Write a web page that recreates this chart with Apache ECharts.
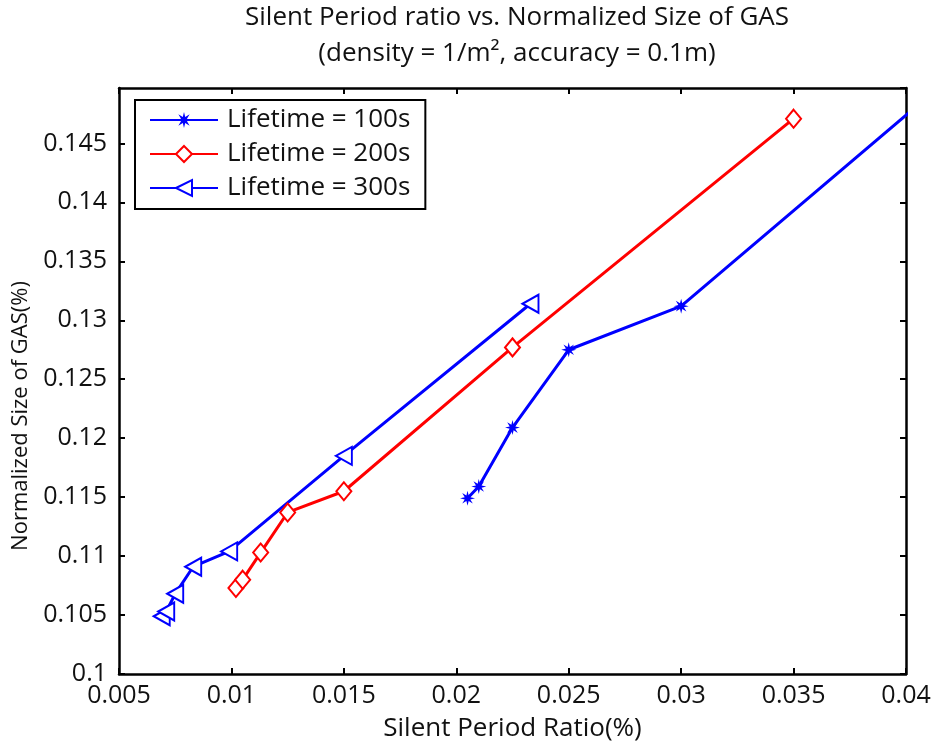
<!DOCTYPE html>
<html>
<head>
<meta charset="utf-8">
<script src="https://cdn.jsdelivr.net/npm/echarts@6/dist/echarts.min.js"></script>
<style>
  html, body { margin: 0; padding: 0; background: #fff; }
  #chart { width: 934px; height: 747px; }
</style>
</head>
<body>
<div id="chart"></div>
<script>
// Silent period ratio (%) and normalized GAS size (%) per node lifetime
const lifetimeNames = ['Lifetime = 100s', 'Lifetime = 200s', 'Lifetime = 300s'];

const ratio100 = [0.0205, 0.0210, 0.0225, 0.0250, 0.0300, 0.0450];
const size100  = [0.1149, 0.1159, 0.1209, 0.1275, 0.1312, 0.1555];

const ratio200 = [0.0102, 0.0105, 0.0113, 0.0125, 0.0150, 0.0225, 0.0350];
const size200  = [0.1073, 0.1080, 0.1103, 0.1137, 0.1155, 0.1277, 0.1471];

const ratio300 = [0.0069, 0.0071, 0.0075, 0.0083, 0.0099, 0.0150, 0.0233];
const size300  = [0.1049, 0.1053, 0.1068, 0.1091, 0.1104, 0.1185, 0.1314];

const xTickLabels = ['0.005', '0.01', '0.015', '0.02', '0.025', '0.03', '0.035', '0.04'];
const yTickLabels = ['0.1', '0.105', '0.11', '0.115', '0.12', '0.125', '0.13', '0.135', '0.14', '0.145'];

const X_MIN = 0.005, X_MAX = 0.04, X_STEP = 0.005;
const Y_MIN = 0.1, Y_MAX = 0.1497, Y_STEP = 0.005;

const FONT = 'Open Sans';
const INK = '#111';
const BLUE = '#0000ff';
const RED = '#ff0000';

// 8-point asterisk marker
const ASTERISK = 'path://M20,10L13.7,11.53L17.07,17.07L11.53,13.7L10,20L8.47,13.7L2.93,17.07L6.3,11.53L0,10L6.3,8.47L2.93,2.93L8.47,6.3L10,0L11.53,6.3L17.07,2.93L13.7,8.47Z';

function zip(xs, ys) { return xs.map((x, i) => [x, ys[i]]); }

function tickText(labels, min, step) {
  return function (v) {
    const i = Math.round((v - min) / step);
    const lbl = labels[i];
    return (lbl !== undefined && Math.abs(min + i * step - v) < step * 1e-3) ? lbl : '';
  };
}

const frameAxis = {
  axisLine: { show: true, onZero: false, lineStyle: { color: '#000', width: 2.5 } },
  axisTick: { show: true, inside: true, length: 6, lineStyle: { color: '#000', width: 2 } },
  splitLine: { show: false }
};

const chart = echarts.init(document.getElementById('chart'));
chart.setOption({
  backgroundColor: '#fff',
  animation: false,
  title: {
    text: 'Silent Period ratio vs. Normalized Size of GAS\n(density = 1/m², accuracy = 0.1m)',
    left: 512, textAlign: 'center', top: -5,
    textStyle: { fontFamily: FONT, fontSize: 26, fontWeight: 'normal', color: INK, lineHeight: 36 }
  },
  // vertical y-axis caption
  graphic: [{
    type: 'text', x: 21, y: 416, rotation: Math.PI / 2,
    style: {
      text: 'Normalized Size of GAS(%)', fill: INK,
      font: '22px "Open Sans"', textAlign: 'center', textVerticalAlign: 'middle'
    }
  }],
  legend: {
    orient: 'vertical',
    left: 135, top: 100,
    data: lifetimeNames,
    backgroundColor: '#fff',
    borderColor: '#000', borderWidth: 2, borderRadius: 0,
    padding: [7, 15, 8, 14],
    itemWidth: 68, itemHeight: 20, itemGap: 8,
    textStyle: { fontFamily: FONT, fontSize: 26, color: INK, padding: [0, 0, 0, 4] }
  },
  grid: { left: 119, right: 28, top: 88, bottom: 70, containLabel: false },
  xAxis: [
    Object.assign({
      type: 'value', position: 'bottom', min: X_MIN, max: X_MAX, interval: X_STEP,
      name: 'Silent Period Ratio(%)', nameLocation: 'middle', nameGap: 42,
      nameTextStyle: { fontFamily: FONT, fontSize: 26, color: INK },
      axisLabel: { fontFamily: FONT, fontSize: 25, color: INK, margin: 9,
                   formatter: tickText(xTickLabels, X_MIN, X_STEP) }
    }, frameAxis),
    Object.assign({
      type: 'value', position: 'top', min: X_MIN, max: X_MAX, interval: X_STEP,
      axisLabel: { show: false }
    }, frameAxis)
  ],
  yAxis: [
    Object.assign({
      type: 'value', position: 'left', min: Y_MIN, max: Y_MAX, interval: Y_STEP,
      axisLabel: { fontFamily: FONT, fontSize: 25, color: INK, margin: 12,
                   showMaxLabel: false, formatter: tickText(yTickLabels, Y_MIN, Y_STEP) }
    }, frameAxis),
    Object.assign({
      type: 'value', position: 'right', min: Y_MIN, max: Y_MAX, interval: Y_STEP,
      axisLabel: { show: false }
    }, frameAxis)
  ],
  series: [
    {
      name: lifetimeNames[0], type: 'line', data: zip(ratio100, size100),
      symbol: ASTERISK, symbolSize: 15,
      lineStyle: { color: BLUE, width: 3 },
      itemStyle: { color: BLUE, borderColor: BLUE, borderWidth: 0 },
      clip: true, z: 3
    },
    {
      name: lifetimeNames[1], type: 'line', data: zip(ratio200, size200),
      symbol: 'emptyDiamond', symbolSize: [15, 18],
      lineStyle: { color: RED, width: 3 },
      itemStyle: { color: RED, borderColor: RED, borderWidth: 2.5 },
      clip: true, z: 2
    },
    {
      name: lifetimeNames[2], type: 'line', data: zip(ratio300, size300),
      symbol: 'emptyTriangle', symbolSize: [18, 16], symbolRotate: 90,
      lineStyle: { color: BLUE, width: 3 },
      itemStyle: { color: BLUE, borderColor: BLUE, borderWidth: 2.5 },
      clip: true, z: 2
    }
  ]
});
</script>
</body>
</html>
